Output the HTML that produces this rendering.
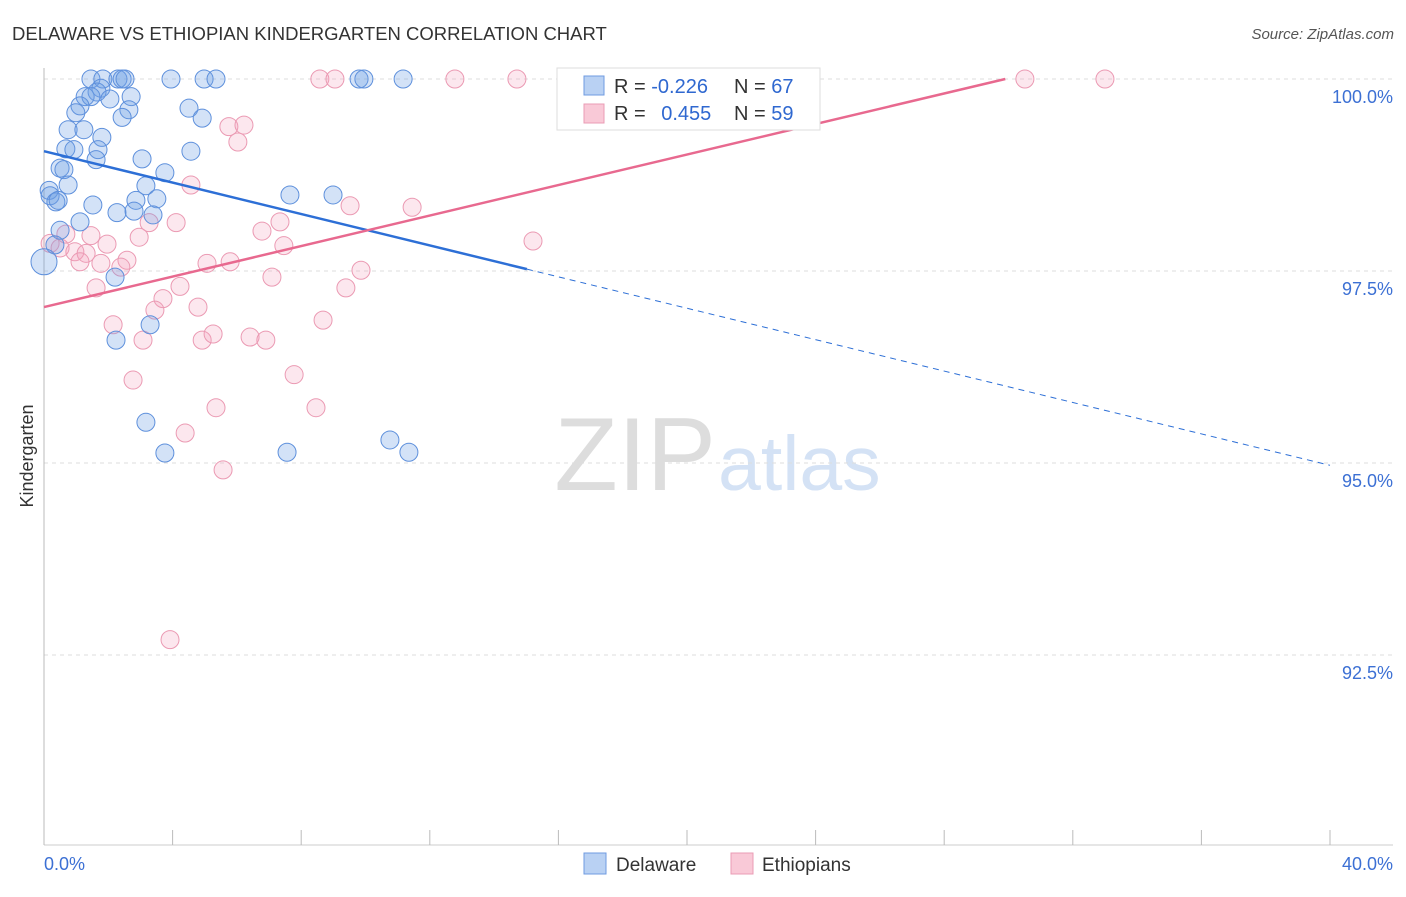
<!DOCTYPE html>
<html><head><meta charset="utf-8"><style>
body{margin:0;background:#fff;font-family:"Liberation Sans",sans-serif;}
svg text{font-family:"Liberation Sans",sans-serif;}
</style></head><body>
<svg id="chart" width="1406" height="892" xmlns="http://www.w3.org/2000/svg">
<text x="12" y="40" font-size="18.5" fill="#333">DELAWARE VS ETHIOPIAN KINDERGARTEN CORRELATION CHART</text>
<text x="1394" y="39" font-size="15" fill="#555" font-style="italic" text-anchor="end">Source: ZipAtlas.com</text>
<text x="716" y="490" font-size="104" font-family="Liberation Serif,serif" fill="#ddd" text-anchor="end">ZIP</text>
<text x="718" y="490" font-size="77" fill="#d4e2f5">atlas</text>
<g id="grid"></g>
<g id="axes"></g>
<g id="marks"></g>
<g id="lines"></g>
<text transform="translate(33,456) rotate(-90)" font-size="18" fill="#333" text-anchor="middle">Kindergarten</text>
<g>
<rect x="557" y="68" width="263" height="62" fill="#fff" stroke="#ddd"/>
<rect x="584" y="76" width="20" height="19" fill="#b9d1f3" stroke="#6f9be0"/>
<rect x="584" y="104" width="20" height="19" fill="#f9c9d7" stroke="#ea9cb4"/>
<text x="614" y="93" font-size="20" fill="#333">R = <tspan fill="#2f68d0">-0.226</tspan></text>
<text x="734" y="93" font-size="20" fill="#333">N = <tspan fill="#2f68d0">67</tspan></text>
<text x="614" y="120" font-size="20" fill="#333">R = <tspan fill="#2f68d0" dx="10">0.455</tspan></text>
<text x="734" y="120" font-size="20" fill="#333">N = <tspan fill="#2f68d0">59</tspan></text>
</g>
<g>
<rect x="584" y="853" width="22" height="21" fill="#b9d1f3" stroke="#6f9be0"/>
<text x="616" y="871" font-size="19" fill="#333">Delaware</text>
<rect x="731" y="853" width="22" height="21" fill="#f9c9d7" stroke="#ea9cb4"/>
<text x="762" y="871" font-size="19" fill="#333">Ethiopians</text>
</g>
</svg>
<script>
const yTicks=[100,97.5,95,92.5];
const yTickLabels=["100.0%","97.5%","95.0%","92.5%"];
const xTickLabels=["0.0%","40.0%"];
const delX=[1.46,1.83,2.30,2.43,2.52,3.95,4.98,5.35,9.80,9.95,11.17,1.77,1.65,1.28,1.46,2.05,2.71,1.12,0.99,2.64,2.43,4.51,4.92,0.75,1.24,1.80,0.68,0.93,1.68,1.62,4.57,3.05,0.50,0.62,3.76,0.75,0.16,0.19,0.37,0.44,1.52,3.17,2.86,3.51,2.27,2.80,3.39,1.12,7.65,8.99,0.50,0.34,0.0,2.21,3.30,2.24,3.17,3.76,7.56,10.76,11.35];
const delY=[100,100,100,100,100,100,100,100,100,100,100,99.88,99.83,99.77,99.77,99.74,99.77,99.65,99.56,99.60,99.50,99.62,99.49,99.34,99.34,99.24,99.09,99.08,99.08,98.95,99.06,98.96,98.84,98.82,98.78,98.62,98.55,98.48,98.40,98.42,98.36,98.61,98.42,98.44,98.26,98.28,98.23,98.14,98.49,98.49,98.03,97.84,97.62,97.42,96.80,96.60,95.53,95.13,95.14,95.30,95.14];
const ethX=[8.58,9.05,12.78,14.71,20.71,30.51,33.0,5.75,6.22,6.03,4.57,9.52,11.45,4.11,3.27,7.34,6.78,2.96,1.46,0.68,1.96,0.19,0.50,0.96,1.31,7.46,15.21,1.77,1.12,2.58,2.39,5.07,5.79,9.86,7.09,1.62,4.23,9.39,3.70,4.79,3.45,2.15,8.68,3.08,4.92,5.26,6.41,6.90,2.77,7.78,5.35,8.46,4.39,5.57,3.92];
const ethY=[100,100,100,100,100,100,100,99.38,99.40,99.18,98.62,98.35,98.33,98.13,98.13,98.14,98.02,97.94,97.96,97.98,97.85,97.86,97.80,97.75,97.73,97.83,97.89,97.60,97.62,97.64,97.55,97.60,97.62,97.51,97.42,97.28,97.30,97.28,97.14,97.03,96.99,96.80,96.86,96.60,96.60,96.68,96.64,96.60,96.08,96.15,95.72,95.72,95.39,94.91,92.70];
const delTrend=[99.06,94.97]; const delSolidEnd=15.02;
const ethTrend=[97.03,100.0]; const ethEnd=29.9;

const X=v=>44+v/40*1286;
const Y=v=>79+(100-v)/2.5*192;
const NS="http://www.w3.org/2000/svg";
function mk(tag,attrs,parent){const e=document.createElementNS(NS,tag);for(const k in attrs)e.setAttribute(k,attrs[k]);parent.appendChild(e);return e;}
const grid=document.getElementById('grid'),axes=document.getElementById('axes'),marks=document.getElementById('marks'),lines=document.getElementById('lines');
yTicks.forEach((t,i)=>{
 const g=mk('line',{x1:44,x2:1393,y1:Y(t),y2:Y(t),stroke:'#ddd','stroke-dasharray':'4,4'},grid);
 
 
 const tx=mk('text',{x:1393,y:Y(t)+24,'font-size':18,fill:'#3c70d4','text-anchor':'end'},axes);
 tx.textContent=yTickLabels[i];
 
 
});
const ya=mk('line',{x1:44,x2:44,y1:68,y2:845,stroke:'#bbb'},axes);


const xa=mk('line',{x1:44,x2:1393,y1:845,y2:845,stroke:'#ccc'},axes);


for(let i=0;i<=10;i++){
 const tk=mk('line',{x1:X(i*4),x2:X(i*4),y1:830,y2:845,stroke:'#bbb'},axes);
 
 
}
const xl0=mk('text',{x:44,y:870,'font-size':18,fill:'#3c70d4'},axes);xl0.textContent=xTickLabels[0];


const xl1=mk('text',{x:1393,y:870,'font-size':18,fill:'#3c70d4','text-anchor':'end'},axes);xl1.textContent=xTickLabels[1];


ethX.forEach((x,i)=>{
 const c=mk('circle',{cx:X(x),cy:Y(ethY[i]),r:9,fill:'rgba(244,160,188,0.25)',stroke:'#eb9ab3','stroke-width':1},marks);
 
 
});
delX.forEach((x,i)=>{
 const c=mk('circle',{cx:X(x),cy:Y(delY[i]),r:(i==52?13:9),fill:'rgba(110,160,230,0.3)',stroke:'#5e90dc','stroke-width':1},marks);
 
 
});
const dAt=x=>delTrend[0]+(delTrend[1]-delTrend[0])*x/40;
const l1=mk('line',{x1:X(0),y1:Y(dAt(0)),x2:X(delSolidEnd),y2:Y(dAt(delSolidEnd)),stroke:'#2d6fd6','stroke-width':2.5},lines);


const l2=mk('line',{x1:X(delSolidEnd),y1:Y(dAt(delSolidEnd)),x2:X(40),y2:Y(dAt(40)),stroke:'#2d6fd6','stroke-width':1,'stroke-dasharray':'6,5'},lines);


const l3=mk('line',{x1:X(0),y1:Y(ethTrend[0]),x2:X(ethEnd),y2:Y(ethTrend[1]),stroke:'#e8698f','stroke-width':2.5},lines);


</script>
</body></html>
